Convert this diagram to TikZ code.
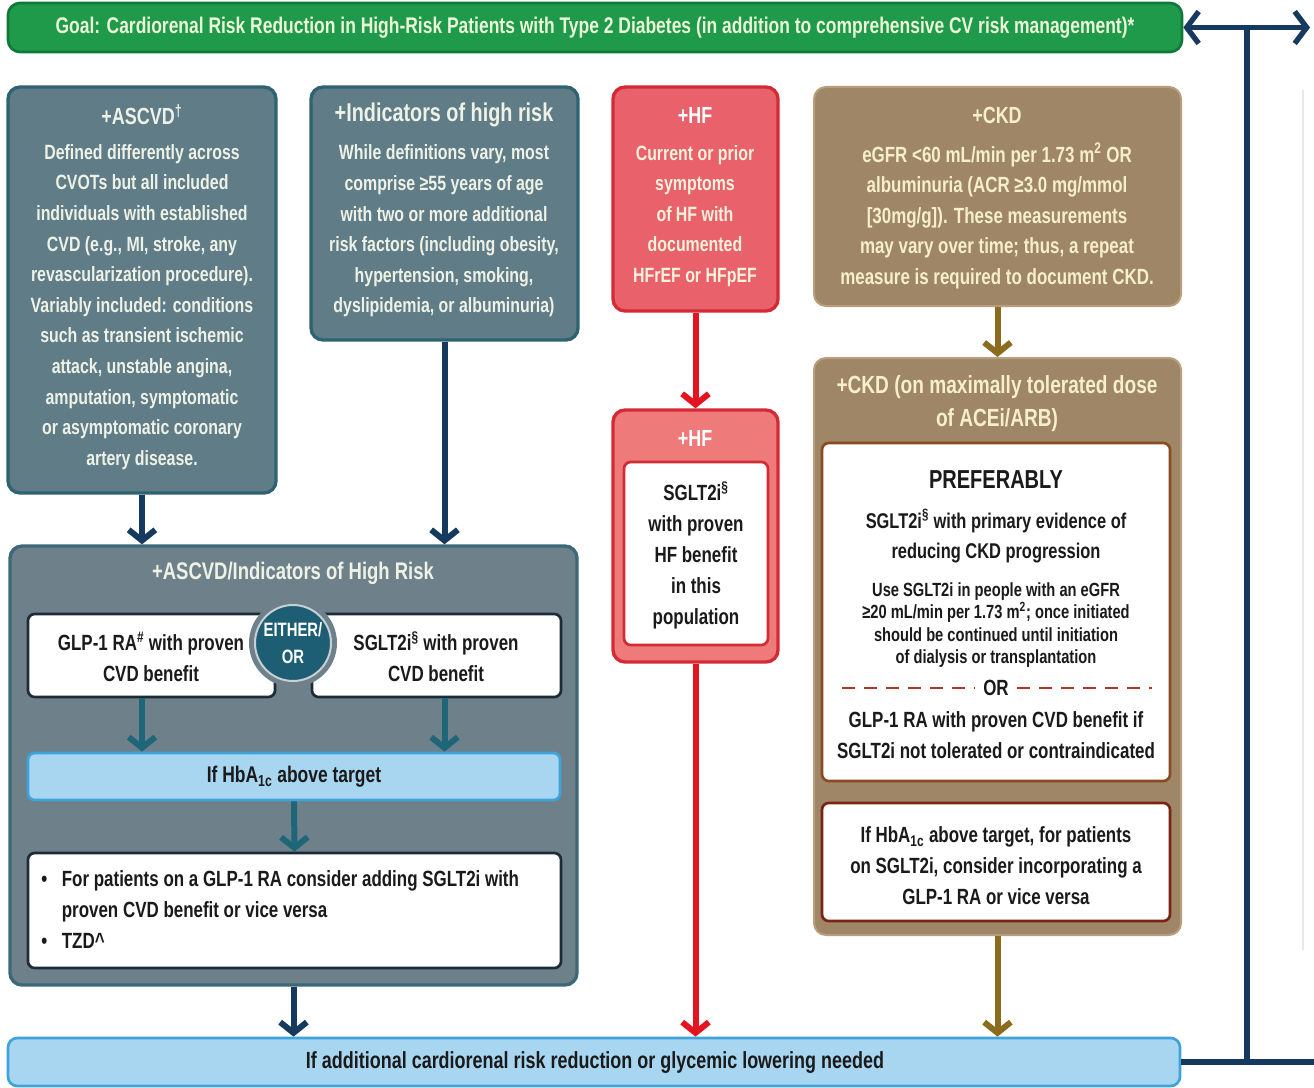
\documentclass[tikz,border=0pt]{standalone}
\usepackage{fontspec}
\setmainfont{Liberation Sans}[FakeStretch=0.77]
\usetikzlibrary{arrows.meta,fit}
\definecolor{goalfill}{HTML}{1F9A4A}
\definecolor{goaledge}{HTML}{10793A}
\definecolor{goaltext}{HTML}{EAF6D8}
\definecolor{tealfill}{HTML}{5F7C87}
\definecolor{tealedge}{HTML}{2F6373}
\definecolor{panelfill}{HTML}{6E818A}
\definecolor{paneledge}{HTML}{3D6878}
\definecolor{paletext}{HTML}{EEF2E6}
\definecolor{hffill}{HTML}{E9616A}
\definecolor{hfedge}{HTML}{D42A36}
\definecolor{hftwofill}{HTML}{EE7B79}
\definecolor{hftext}{HTML}{FFF1DC}
\definecolor{redarrow}{HTML}{E3141F}
\definecolor{ckdfill}{HTML}{9E8667}
\definecolor{ckdedge}{HTML}{B89E7C}
\definecolor{ckdtext}{HTML}{F6EFC8}
\definecolor{ckdinner}{HTML}{8B4A22}
\definecolor{ckdinnertwo}{HTML}{7A2414}
\definecolor{brownarrow}{HTML}{8C6A1E}
\definecolor{navy}{HTML}{16395F}
\definecolor{tealarrow}{HTML}{1F6679}
\definecolor{lightblue}{HTML}{A8D6F1}
\definecolor{lightblueedge}{HTML}{3EA3DC}
\definecolor{eitherfill}{HTML}{1E5E74}
\definecolor{ringgray}{HTML}{C8D0D4}
\definecolor{darktext}{HTML}{1A1A1A}
\definecolor{whiteedge}{HTML}{1C2B38}
\definecolor{dashred}{HTML}{B0342A}
\newcommand{\fsGoal}{\fontsize{17}{19}\selectfont}
\newcommand{\fsTitle}{\fontsize{17.5}{20}\selectfont}
\newcommand{\fsBody}{\fontsize{15.5}{22.95}\selectfont}
\newcommand{\fsBox}{\fontsize{16.5}{23.2}\selectfont}
\newcommand{\fsSmall}{\fontsize{14.3}{16.7}\selectfont}
\newcommand{\fsPref}{\fontsize{19.5}{22}\selectfont}
\newcommand{\fsBottom}{\fontsize{17.5}{19}\selectfont}
\begin{document}
\begin{tikzpicture}[x=0.75pt,y=-0.75pt,
  box/.style={rounded corners=9pt, inner sep=0pt, line width=2pt},
  goalbox/.style={box, fill=goalfill, draw=goaledge},
  tealbox/.style={box, fill=tealfill, draw=tealedge, line width=2.5pt},
  panelbox/.style={box, fill=panelfill, draw=paneledge, line width=2.5pt},
  hfbox/.style={box, fill=hffill, draw=hfedge, line width=2.5pt},
  hftwobox/.style={box, fill=hftwofill, draw=hfedge, line width=2.5pt},
  ckdbox/.style={box, fill=ckdfill, draw=ckdedge, line width=1.5pt},
  whitebox/.style={box, rounded corners=5pt, fill=white, draw=whiteedge, line width=2pt},
  hfinner/.style={whitebox, draw=hfedge},
  ckdin/.style={whitebox, draw=ckdinner},
  ckdintwo/.style={whitebox, draw=ckdinnertwo},
  bluebar/.style={box, rounded corners=5pt, fill=lightblue, draw=lightblueedge, line width=2pt},
  ttl/.style={inner sep=0pt, font=\fsTitle\bfseries},
  body/.style={inner sep=0pt, align=center, font=\fsBody\bfseries},
  boxtxt/.style={inner sep=0pt, align=center, font=\fsBox\bfseries, text=darktext},
  arr/.style={line width=4.5pt, -{Straight Barb[length=8pt,width=20pt]}},
  navyarr/.style={arr, draw=navy},
  tealarr/.style={arr, draw=tealarrow},
  redarr/.style={arr, draw=redarrow},
  brownarr/.style={arr, draw=brownarrow},
  conn/.style={line width=4pt, draw=navy},
  dashline/.style={draw=dashred, line width=2pt, dash pattern=on 9.5pt off 7pt}
]
\useasboundingbox (0,0) rectangle (1314,1088);
\fill[white] (0,0) rectangle (1314,1088);

% faint edge of the next panel
\draw[black!9, line width=1pt] (1303,90) -- (1303,950);

% goal banner
\node[goalbox, fit={(8,3)(1182,52)}] (goal) {};
\node[inner sep=0pt, font=\fsGoal\bfseries, text=goaltext] (goalt) at (595,27.5) {Goal: Cardiorenal Risk Reduction in High-Risk Patients with Type 2 Diabetes (in addition to comprehensive CV risk management)*};

% ASCVD
\node[tealbox, fit={(8,87)(276,493)}] (asc) {};
\node[ttl, text=paletext] (asct) at (142,115) {+ASCVD\textsuperscript{†}};
\node[body, text=paletext] (ascb) at (142,307) {Defined differently across\\CVOTs but all included\\individuals with established\\CVD (e.g., MI, stroke, any\\revascularization procedure).\\Variably included: conditions\\such as transient ischemic\\attack, unstable angina,\\amputation, symptomatic\\or asymptomatic coronary\\artery disease.};

% Indicators
\node[tealbox, fit={(311,87)(578,340)}] (ind) {};
\node[ttl, font=\fontsize{19.3}{22}\selectfont\bfseries, text=paletext] (indt) at (444,115) {+Indicators of high risk};
\node[body, text=paletext] (indb) at (444,231) {While definitions vary, most\\comprise ≥55 years of age\\with two or more additional\\risk factors (including obesity,\\hypertension, smoking,\\dyslipidemia, or albuminuria)};

% HF
\node[hfbox, fit={(613,87)(778,311)}] (hfa) {};
\node[ttl, text=white] (hfat) at (695,115) {+HF};
\node[body, text=hftext] (hfab) at (695,216) {Current or prior\\symptoms\\of HF with\\documented\\HFrEF or HFpEF};

% CKD
\node[ckdbox, fit={(814,87)(1181,306)}] (ckda) {};
\node[ttl, text=ckdtext] (ckdat) at (997,115) {+CKD};
\node[body, font=\fontsize{16.5}{22.95}\selectfont\bfseries, text=ckdtext] (ckdab) at (997,216) {eGFR <60 mL/min per 1.73 m\textsuperscript{2} OR\\albuminuria (ACR ≥3.0 mg/mmol\\{[}30mg/g{]}). These measurements\\may vary over time; thus, a repeat\\measure is required to document CKD.};

% ASCVD / high-risk panel
\node[panelbox, fit={(10,546)(577,985)}] (panel) {};
\node[ttl, font=\fontsize{18}{20}\selectfont\bfseries, text=paletext] (panelt) at (293,573) {+ASCVD/Indicators of High Risk};
\node[whitebox, fit={(28,614)(275,697)}] (glp) {};
\node[boxtxt] (glpt) at (151,657) {GLP-1 RA\textsuperscript{\#} with proven\\CVD benefit};
\node[whitebox, fit={(312,614)(561,697)}] (sgl) {};
\node[boxtxt] (sglt) at (436,657) {SGLT2i\textsuperscript{§} with proven\\CVD benefit};
\node[circle, fill=panelfill, inner sep=0pt, minimum size=66pt] (eitherbg) at (293,643) {};
\node[circle, fill=eitherfill, draw=ringgray, line width=1.5pt, inner sep=0pt, minimum size=57pt, align=center, font=\fontsize{14.5}{20}\selectfont\bfseries, text=white] (either) at (293,643) {EITHER/\\OR};
\node[bluebar, fit={(28,753)(560,800)}] (hba) {};
\node[inner sep=0pt, font=\fontsize{17}{20}\selectfont\bfseries, text=darktext] (hbat) at (294,777) {If HbA\textsubscript{1c} above target};
\node[whitebox, fit={(28,853)(561,968)}] (bul) {};
\node[inner sep=0pt, anchor=west, font=\fsBox\bfseries, text=darktext] (bult) at (41,911) {\begin{tabular}{@{}l@{\hspace{11pt}}l@{}}•&For patients on a GLP-1 RA consider adding SGLT2i with\\&proven CVD benefit or vice versa\\•&TZD\textasciicircum\end{tabular}};

% HF second
\node[hftwobox, fit={(613,410)(778,662)}] (hfb) {};
\node[ttl, text=white] (hfbt) at (695,438) {+HF};
\node[hfinner, fit={(624,462)(768,645)}] (hfin) {};
\node[boxtxt] (hfint) at (696,555) {SGLT2i\textsuperscript{§}\\with proven\\HF benefit\\in this\\population};

% CKD second
\node[ckdbox, fit={(814,358)(1181,935)}] (ckdb) {};
\node[inner sep=0pt, align=center, font=\fontsize{18.6}{24.75}\selectfont\bfseries, text=ckdtext] (ckdbt) at (997,404) {+CKD (on maximally tolerated dose\\of ACEi/ARB)};
\node[ckdin, fit={(822,443)(1170,781)}] (ckdin1) {};
\node[inner sep=0pt, font=\fsPref\bfseries, text=darktext] (pref) at (996,480) {PREFERABLY};
\node[boxtxt, font=\fontsize{16}{22.5}\selectfont\bfseries] (prefa) at (996,536) {SGLT2i\textsuperscript{§} with primary evidence of\\reducing CKD progression};
\node[inner sep=0pt, align=center, font=\fsSmall\bfseries, text=darktext] (prefb) at (996,625) {Use SGLT2i in people with an eGFR\\≥20 mL/min per 1.73 m\textsuperscript{2}; once initiated\\should be continued until initiation\\of dialysis or transplantation};
\node[inner sep=6pt, font=\fsBox\bfseries, text=darktext] (ort) at (996,688) {OR};
\draw[dashline] (842,688) -- (ort.west);
\draw[dashline] (ort.east) -- (1152,688);
\node[boxtxt] (prefc) at (996,735) {GLP-1 RA with proven CVD benefit if\\SGLT2i not tolerated or contraindicated};
\node[ckdintwo, fit={(822,803)(1170,921)}] (ckdin2) {};
\node[boxtxt] (ckdin2t) at (996,866) {If HbA\textsubscript{1c} above target, for patients\\on SGLT2i, consider incorporating a\\GLP-1 RA or vice versa};

% bottom bar
\node[bluebar, rounded corners=7pt, fit={(8,1038)(1180,1086)}] (bottom) {};
\node[inner sep=0pt, font=\fsBottom\bfseries, text=darktext] (bottomt) at (595,1063) {If additional cardiorenal risk reduction or glycemic lowering needed};

% arrows
\draw[navyarr] (asc.south) -- (asc.south |- panel.north);
\draw[navyarr] (ind.south) -- (ind.south |- panel.north);
\draw[redarr] (hfa.south) -- (hfb.north);
\draw[brownarr] (ckda.south) -- (ckdb.north);
\draw[tealarr] (glp.south -| asc.south) -- (hba.north -| asc.south);
\draw[tealarr] (sgl.south -| ind.south) -- (hba.north -| ind.south);
\draw[tealarr] (hba.south) -- (bul.north);
\draw[navyarr] (panel.south) -- (bottom.north -| panel.south);
\draw[redarr] (hfb.south) -- (bottom.north -| hfb.south);
\draw[brownarr] (ckdb.south) -- (bottom.north -| ckdb.south);

% right connector
\coordinate (tj) at (1247,27.5);
\coordinate (tr) at (1310,27.5);
\coordinate (bj) at (1247,1062);
\coordinate (br) at (1314,1062);
\draw[conn, {Straight Barb[length=9pt,width=24pt]}-{Straight Barb[length=9pt,width=24pt]}] (goal.east) -- (tr);
\draw[conn] (tj) -- (bj);
\draw[conn] (bottom.east) -- (br);
\end{tikzpicture}
\end{document}
